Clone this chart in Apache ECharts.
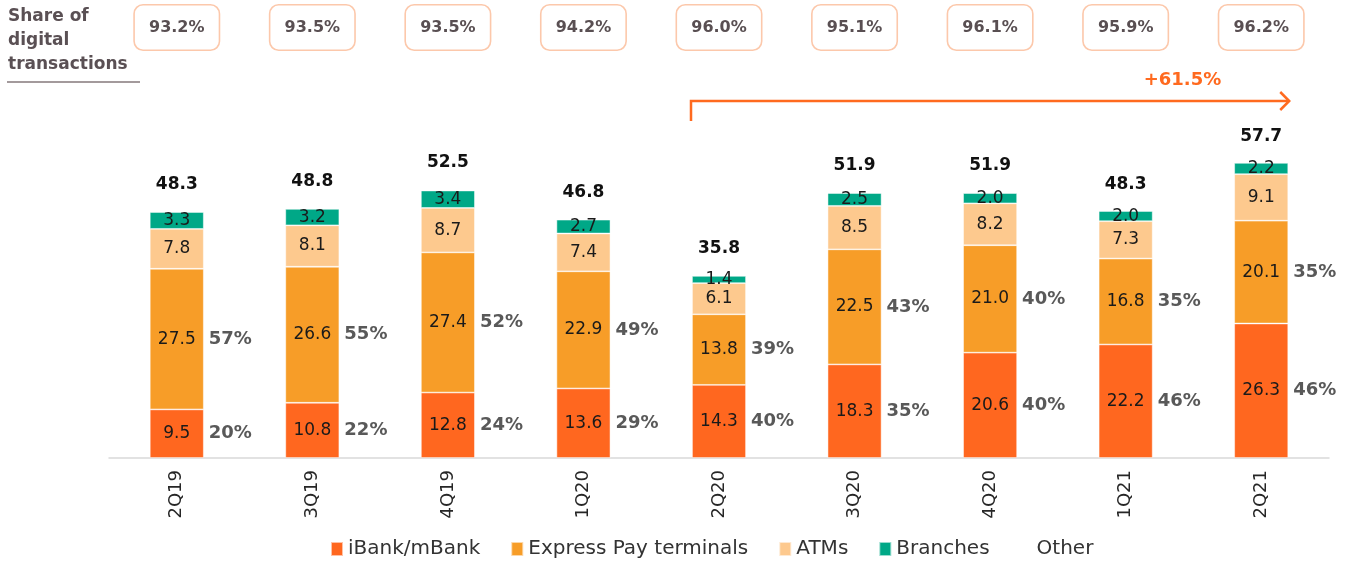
<!DOCTYPE html>
<html>
<head>
<meta charset="utf-8">
<script src="https://cdn.jsdelivr.net/npm/echarts@6/dist/echarts.min.js"></script>
<style>
  html, body { margin: 0; padding: 0; background: #fff; }
  #chart { width: 1346px; height: 561px; }
</style>
</head>
<body>
<div id="chart"></div>
<script>
const quarters = ["2Q19", "3Q19", "4Q19", "1Q20", "2Q20", "3Q20", "4Q20", "1Q21", "2Q21"]
const digitalShare = ["93.2%", "93.5%", "93.5%", "94.2%", "96.0%", "95.1%", "96.1%", "95.9%", "96.2%"]
const iBank = [9.5, 10.8, 12.8, 13.6, 14.3, 18.3, 20.6, 22.2, 26.3]
const expressPay = [27.5, 26.6, 27.4, 22.9, 13.8, 22.5, 21.0, 16.8, 20.1]
const atms = [7.8, 8.1, 8.7, 7.4, 6.1, 8.5, 8.2, 7.3, 9.1]
const branches = [3.3, 3.2, 3.4, 2.7, 1.4, 2.5, 2.0, 2.0, 2.2]
const other = [0.2, 0.1, 0.2, 0.2, 0.2, 0.1, 0.1, 0.0, 0.0]
const totals = ["48.3", "48.8", "52.5", "46.8", "35.8", "51.9", "51.9", "48.3", "57.7"]
const iBankShare = ["20%", "22%", "24%", "29%", "40%", "35%", "40%", "46%", "46%"]
const expressShare = ["57%", "55%", "52%", "49%", "39%", "43%", "40%", "35%", "35%"]
const growthLabel = "+61.5%"

const FONT = "DejaVu Sans"
const BAR_W = 54

const chart = echarts.init(document.getElementById("chart"))

// inside value label
const inLabel = {
  show: true,
  position: "inside",
  color: "#1a1a1a",
  fontFamily: FONT,
  fontSize: 17,
  formatter: (p) => p.value.toFixed(1)
}

function pctLabel(arr){
  return {
    show: true,
    position: "right",
    distance: 5,
    color: "#595959",
    fontFamily: FONT,
    fontWeight: "bold",
    fontSize: 18,
    formatter: (p) => arr[p.dataIndex]
  }
}

const segBorder = { borderColor: "rgba(255,255,255,0.6)", borderWidth: 0.8 }

const option = {
  animation: false,
  backgroundColor: "#fff",
  grid: [
    { left: 109, right: 17, top: 100, bottom: 103 },
    { left: 109, right: 17, top: 4, height: 47 }
  ],
  xAxis: [
    {
      type: "category",
      gridIndex: 0,
      data: quarters,
      axisLine: { lineStyle: { color: "#d9d9d9", width: 1.5 } },
      axisTick: { length: 8, lineStyle: { color: "#d9d9d9", width: 1.5 } },
      axisLabel: {
        rotate: 90,
        margin: 12,
        color: "#262626",
        fontFamily: FONT,
        fontSize: 18
      }
    },
    { type: "category", gridIndex: 1, data: quarters, show: false },
    { type: "category", gridIndex: 0, data: quarters, show: false }
  ],
  yAxis: [
    { type: "value", gridIndex: 0, min: 0, max: 70, show: false },
    { type: "value", gridIndex: 1, min: 0, max: 1, show: false }
  ],
  legend: {
    left: 325,
    bottom: -3,
    itemWidth: 12,
    itemHeight: 14,
    itemGap: 30,
    itemTextGap: 5,
    icon: "rect",
    textStyle: { color: "#333", fontFamily: FONT, fontSize: 20 },
    data: ["iBank/mBank", "Express Pay terminals", "ATMs", "Branches", "Other"]
  },
  series: [
    {
      name: "iBank/mBank", type: "bar", stack: "tx", barWidth: BAR_W,
      data: iBank, itemStyle: { color: "#ff671f", ...segBorder }, label: inLabel
    },
    {
      name: "Express Pay terminals", type: "bar", stack: "tx", barWidth: BAR_W,
      data: expressPay, itemStyle: { color: "#f79d28", ...segBorder }, label: inLabel
    },
    {
      name: "ATMs", type: "bar", stack: "tx", barWidth: BAR_W,
      data: atms, itemStyle: { color: "#fdc98e", ...segBorder }, label: inLabel
    },
    {
      name: "Branches", type: "bar", stack: "tx", barWidth: BAR_W,
      data: branches, itemStyle: { color: "#00a887", ...segBorder }, label: inLabel
    },
    {
      name: "Other", type: "bar", stack: "tx", barWidth: BAR_W,
      data: other, itemStyle: { color: "rgba(255,255,255,0)" },
      label: {
        show: true,
        position: "top",
        distance: 18,
        color: "#111",
        fontFamily: FONT,
        fontWeight: "bold",
        fontSize: 17,
        formatter: (p) => totals[p.dataIndex]
      }
    },
    // transparent twins that carry the share labels on the right of the bars
    {
      name: "p1", type: "bar", stack: "pct", xAxisIndex: 2, yAxisIndex: 0, barWidth: BAR_W,
      data: iBank, silent: true, itemStyle: { color: "rgba(0,0,0,0)" },
      label: pctLabel(iBankShare)
    },
    {
      name: "p2", type: "bar", stack: "pct", xAxisIndex: 2, yAxisIndex: 0, barWidth: BAR_W,
      data: expressPay, silent: true, itemStyle: { color: "rgba(0,0,0,0)" },
      label: pctLabel(expressShare)
    },
    // share of digital transactions boxes (full-height cells in the top strip)
    {
      name: "share", type: "bar", xAxisIndex: 1, yAxisIndex: 1,
      data: digitalShare.map(() => 1),
      barWidth: 87,
      silent: true,
      itemStyle: { color: "#fff", borderColor: "#fcc8ab", borderWidth: 1.6, borderRadius: 9 },
      label: {
        show: true,
        position: "inside",
        color: "#594f52",
        fontFamily: FONT,
        fontWeight: "bold",
        fontSize: 16,
        formatter: (p) => digitalShare[p.dataIndex]
      }
    }
  ]
}

chart.setOption(option)

// growth arrow from 2Q20 to 2Q21
const x0 = chart.convertToPixel({ xAxisIndex: 0 }, "2Q20") - BAR_W / 2 - 1
const x1 = chart.convertToPixel({ xAxisIndex: 0 }, "2Q21") + BAR_W / 2 + 1
const yLine = 101
const orange = "#ff6a1f"

chart.setOption({
  graphic: [
    {
      type: "text", left: 8, top: 5,
      style: {
        text: "Share of\ndigital\ntransactions",
        fill: "#5a5054",
        font: "bold 17px " + FONT,
        lineHeight: 24
      }
    },
    {
      type: "line",
      shape: { x1: 7, y1: 82, x2: 140, y2: 82 },
      style: { stroke: "#a39a9c", lineWidth: 2 }
    },
    {
      type: "polyline",
      shape: { points: [[x0, 121], [x0, yLine], [x1, yLine]] },
      style: { stroke: orange, lineWidth: 2.5, fill: null }
    },
    {
      type: "polyline",
      shape: { points: [[x1 - 9, yLine - 9], [x1, yLine], [x1 - 9, yLine + 9]] },
      style: { stroke: orange, lineWidth: 2.5, fill: null }
    },
    {
      type: "text", x: x1 - 68, y: 80,
      style: {
        text: growthLabel,
        fill: orange,
        font: "bold 18px " + FONT,
        align: "right",
        verticalAlign: "middle"
      }
    }
  ]
})
</script>
</body>
</html>
